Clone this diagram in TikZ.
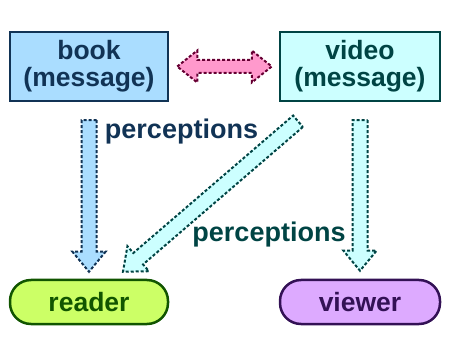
\documentclass[tikz,border=0pt]{standalone}
\usepackage{fontspec}
\setmainfont{Liberation Sans}
\usepackage{tikz}
\usetikzlibrary{calc,positioning}
\definecolor{navy}{HTML}{113355}
\definecolor{bookblue}{HTML}{AADDFF}
\definecolor{deepteal}{HTML}{004444}
\definecolor{videocyan}{HTML}{CCFFFF}
\definecolor{leaf}{HTML}{115500}
\definecolor{lime}{HTML}{CCFF66}
\definecolor{plum}{HTML}{331155}
\definecolor{lilac}{HTML}{DDAAFF}
\definecolor{rose}{HTML}{FF99CC}
\definecolor{wine}{HTML}{660033}

% fat arrow: style, from, to
\newcommand\fatarrow[3]{%
  \path (#2) coordinate (fa-s) (#3) coordinate (fa-e);
  \coordinate (fa-h) at ($(fa-e)!20pt!(fa-s)$);
  \draw[#1] ($(fa-s)!7.5pt!90:(fa-e)$) -- ($(fa-h)!7.5pt!90:(fa-e)$)
    -- ($(fa-h)!16.5pt!90:(fa-e)$) -- (fa-e) -- ($(fa-h)!16.5pt!-90:(fa-e)$)
    -- ($(fa-h)!7.5pt!-90:(fa-e)$) -- ($(fa-s)!7.5pt!-90:(fa-e)$) -- cycle;}
% double fat arrow, horizontal
\newcommand\fatdarrow[3]{%
  \path (#2) coordinate (fa-s) (#3) coordinate (fa-e);
  \draw[#1] (fa-s) -- ++(20pt,16pt) -- ++(0,-9.5pt) -| ($(fa-e)+(-20pt,16pt)$)
    -- (fa-e) -- ++(-20pt,-16pt) -- ++(0,9.5pt) -| ($(fa-s)+(20pt,-16pt)$) -- cycle;}

\begin{document}
\begin{tikzpicture}[x=1pt,y=1pt,
  msg/.style={draw,line width=2.5pt,minimum width=158pt,minimum height=69pt,inner sep=0pt,
    align=center,font=\fontsize{26.5}{27}\selectfont\bfseries},
  person/.style={draw,line width=2.5pt,rounded corners=21pt,minimum width=158pt,
    minimum height=44pt,inner sep=0pt,font=\fontsize{26.5}{27}\selectfont\bfseries},
  fat/.style={line width=2pt,dash pattern=on 3pt off 2pt,line join=miter},
  lbl/.style={font=\fontsize{27}{27}\selectfont\bfseries,inner sep=0pt}]
\useasboundingbox (0,0) rectangle (460,-344);
\node[msg,fill=bookblue,draw=navy,text=navy] (book) at (89,-66.5) {book\\(message)};
\node[msg,fill=videocyan,draw=deepteal,text=deepteal,minimum width=160pt,right=109.5pt of book] (video) {video\\(message)};
\node[person,fill=lime,draw=leaf,text=leaf,below=176.5pt of book] (reader) {reader};
\node[person,fill=lilac,draw=plum,text=plum,minimum width=160pt,below=176.5pt of video] (viewer) {viewer};
\fatdarrow{fat,fill=rose,draw=wine}{[xshift=8pt]book.east}{[xshift=-7pt]video.west}
\fatarrow{fat,fill=bookblue,draw=navy}{[yshift=-18pt]book.south}{[yshift=7pt]reader.north}
\fatarrow{fat,fill=videocyan,draw=deepteal}{[xshift=-62pt,yshift=-19pt]video.south}{[xshift=34pt,yshift=7pt]reader.north}
\fatarrow{fat,fill=videocyan,draw=deepteal}{[yshift=-18pt]video.south}{[yshift=8pt]viewer.north}
\node[lbl,text=navy] (perc1) at (181.5,-132) {perceptions};
\node[lbl,text=deepteal] (perc2) at (269,-235) {perceptions};
\end{tikzpicture}
\end{document}
